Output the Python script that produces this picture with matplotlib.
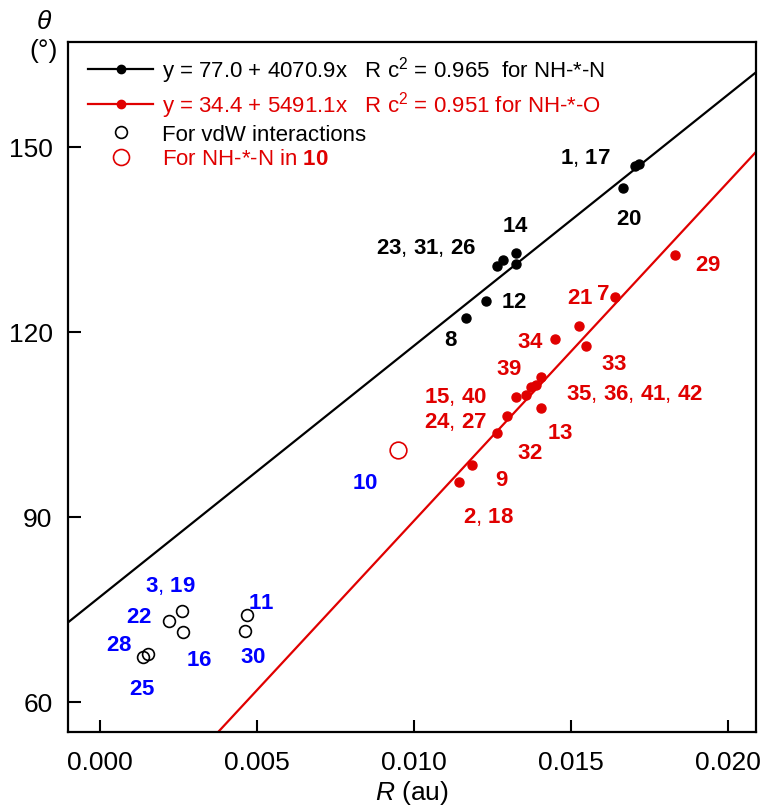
#!/usr/bin/env python3
import numpy as np
import matplotlib
matplotlib.use('Agg')
import matplotlib.pyplot as plt
from matplotlib.lines import Line2D

# NH-*-N hydrogen bonds (filled black)
nhn_R     = [0.01704, 0.01717, 0.01667, 0.01327, 0.01327, 0.01284, 0.01264, 0.01229, 0.01168]
nhn_theta = [146.9, 147.2, 143.4, 132.8, 131.0, 131.6, 130.7, 125.0, 122.2]

# NH-*-O hydrogen bonds (filled red)
nho_R     = [0.01831, 0.01642, 0.01527, 0.01449, 0.01548, 0.01404, 0.01389, 0.01375,
             0.01358, 0.01327, 0.01406, 0.01297, 0.01266, 0.01186, 0.01143]
nho_theta = [132.5, 125.7, 121.0, 118.8, 117.7, 112.6, 111.3, 111.05,
             109.8, 109.5, 107.7, 106.4, 103.6, 98.35, 95.65]

# vdW interactions (open black)
vdw_R     = [0.00261, 0.00219, 0.00265, 0.00469, 0.00462, 0.00152, 0.00138]
vdw_theta = [74.7, 73.1, 71.3, 74.0, 71.55, 67.8, 67.3]

# NH-*-N in 10 (open red)
n10_R     = [0.0095]
n10_theta = [100.8]

# linear fits: intercept, slope
fit_nhn = [77.0, 4070.9]
fit_nho = [34.4, 5491.1]

# compound labels: text, R, theta
labels_nhn = [('1, 17', 0.01545, 148.3), ('20', 0.01686, 138.3), ('14', 0.01324, 137.25),
              ('23, 31, 26', 0.0104, 133.75), ('12', 0.0132, 124.9), ('8', 0.01117, 118.8)]
labels_nho = [('29', 0.01937, 131.0), ('21', 0.01529, 125.6), ('7', 0.01603, 126.2),
              ('34', 0.01372, 118.4), ('33', 0.01638, 114.8), ('39', 0.01304, 114.0),
              ('35, 36, 41, 42', 0.01704, 110.0), ('15, 40', 0.01134, 109.6),
              ('24, 27', 0.01134, 105.5), ('13', 0.01465, 103.65), ('32', 0.01369, 100.4),
              ('9', 0.01281, 96.1), ('2, 18', 0.01237, 90.15)]
labels_vdw = [('10', 0.00844, 95.55), ('3, 19', 0.00223, 78.9), ('22', 0.00124, 73.9),
              ('11', 0.00515, 76.05), ('28', 0.00061, 69.3), ('16', 0.00315, 66.9),
              ('30', 0.00488, 67.3), ('25', 0.00136, 62.15)]

RED  = '#e00000'
BLUE = '#0000ff'


def boldNumbers(s):
    # numbers bold, commas plain
    parts = s.split(', ')
    return ', '.join(r'$\mathbf{' + p + '}$' for p in parts)


def main():
    plt.rcParams['font.family'] = ['Liberation Sans', 'DejaVu Sans']
    plt.rcParams['mathtext.fontset'] = 'custom'
    plt.rcParams['mathtext.rm'] = 'Liberation Sans'
    plt.rcParams['mathtext.it'] = 'Liberation Sans:italic'
    plt.rcParams['mathtext.bf'] = 'Liberation Sans:bold'

    fig = plt.figure(figsize=(7.62, 8.12), dpi=100)
    ax = fig.add_axes([0.089, 0.0973, 0.903, 0.8497])

    xlim = (-0.00102, 0.0209)
    ylim = (55.1, 167.0)
    xs = np.array(xlim)

    ax.plot(xs, fit_nhn[0] + fit_nhn[1] * xs, '-', color='black', lw=1.6, zorder=2)
    ax.plot(xs, fit_nho[0] + fit_nho[1] * xs, '-', color=RED, lw=1.6, zorder=2)

    ax.plot(nhn_R, nhn_theta, 'o', color='black', ms=6.5, zorder=3)
    ax.plot(nho_R, nho_theta, 'o', color=RED, ms=6.5, zorder=3)
    ax.plot(vdw_R, vdw_theta, 'o', mfc='none', mec='black', mew=1.2, ms=8.5, zorder=3)
    ax.plot(n10_R, n10_theta, 'o', mfc='none', mec=RED, mew=1.2, ms=12, zorder=3)

    for txt, x, y in labels_nhn:
        ax.text(x, y, boldNumbers(txt), color='black', fontsize=16, ha='center', va='center')
    for txt, x, y in labels_nho:
        ax.text(x, y, boldNumbers(txt), color=RED, fontsize=16, ha='center', va='center')
    for txt, x, y in labels_vdw:
        ax.text(x, y, boldNumbers(txt), color=BLUE, fontsize=16, ha='center', va='center')

    # Legend
    handles = [Line2D([], [], color='black', lw=1.6, marker='o', ms=6),
               Line2D([], [], color=RED, lw=1.6, marker='o', ms=6),
               Line2D([], [], ls='none', marker='o', mfc='none', mec='black', mew=1.2, ms=8.5),
               Line2D([], [], ls='none', marker='o', mfc='none', mec=RED, mew=1.2, ms=11.5)]
    texts = [r'y = 77.0 + 4070.9x   R c$^2$ = 0.965  for NH-*-N',
             r'y = 34.4 + 5491.1x   R c$^2$ = 0.951 for NH-*-O',
             'For vdW interactions',
             r'For NH-*-N in $\mathbf{10}$']
    leg = ax.legend(handles, texts, loc='upper left', bbox_to_anchor=(0.012, 1.0),
                    frameon=False, fontsize=16, handlelength=2.9, handletextpad=0.4,
                    labelspacing=0.17, borderpad=0.2, borderaxespad=0.35)
    leg.get_texts()[1].set_color(RED)
    leg.get_texts()[3].set_color(RED)

    # Axes
    ax.set_xlim(xlim)
    ax.set_ylim(ylim)
    ax.set_xticks([0.000, 0.005, 0.010, 0.015, 0.020])
    ax.set_xticklabels(['0.000', '0.005', '0.010', '0.015', '0.020'])
    ax.set_yticks([60, 90, 120, 150])
    ax.tick_params(axis='both', direction='in', length=9, width=1.5, labelsize=19)
    ax.tick_params(axis='x', pad=13)
    ax.tick_params(axis='y', pad=11)
    for sp in ax.spines.values():
        sp.set_linewidth(1.6)
    ax.set_xlabel(r'$\mathit{R}$ (au)', fontsize=19, labelpad=3)

    fig.text(44 / 762, 1 - 22 / 812, 'θ', style='italic', fontsize=19, ha='center', va='center')
    fig.text(44 / 762, 1 - 51 / 812, '(°)', fontsize=19, ha='center', va='center')

    fig.savefig('out.png', dpi=100)


if __name__ == "__main__":
    main()
